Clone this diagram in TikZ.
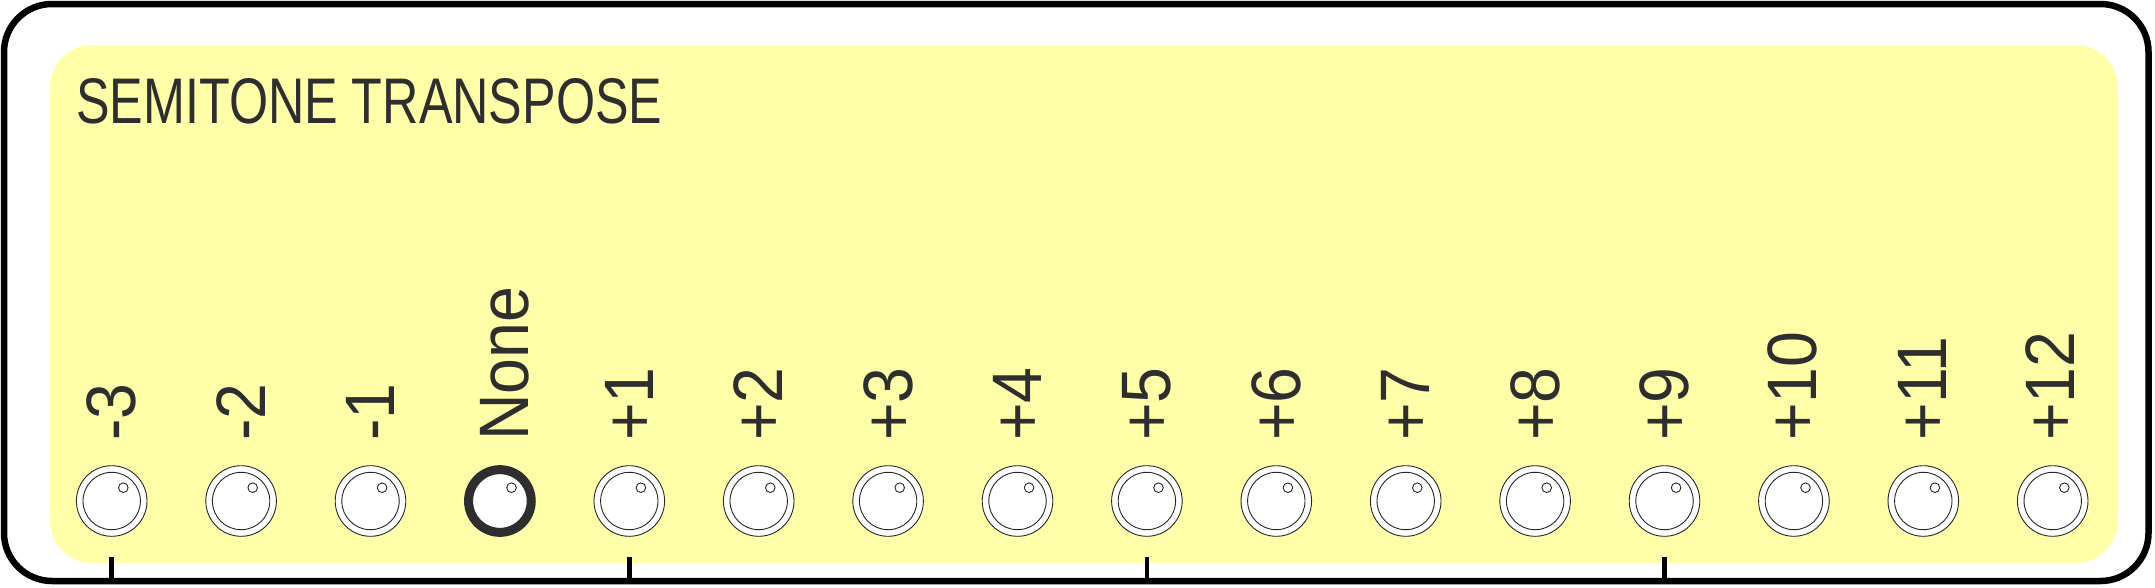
\documentclass[tikz,border=0pt]{standalone}
\usepackage{fontspec}
\setmainfont{Liberation Sans}
\newfontfamily\titlefont[FakeStretch=0.78]{Liberation Sans}
\newfontfamily\labelfont[FakeStretch=0.92]{Liberation Sans}
\usetikzlibrary{positioning}
\usetikzlibrary{calc}
\definecolor{panelyellow}{HTML}{FFFFAA}
\definecolor{inkgray}{HTML}{2E2E2E}

\begin{document}
\begin{tikzpicture}[x=1pt, y=-1pt,
        knob/.style={circle, draw=black!85, line width=0.9pt, fill=white,
            minimum size=70.6pt, inner sep=0pt,
            path picture={\draw[black!85, line width=0.9pt]
                (path picture bounding box.center) circle (28.7)
                ($(path picture bounding box.center)+(11.6,-13.3)$) circle (4.8);}},
        knobsel/.style={circle, draw=inkgray, line width=9pt, fill=white,
            minimum size=62.7pt, inner sep=0pt,
            path picture={\draw[black!85, line width=0.9pt]
                ($(path picture bounding box.center)+(11.6,-13.3)$) circle (4.8);}},
        lab/.style={rotate=90, anchor=base west, inner sep=0pt, text=inkgray,
            font=\labelfont\fontsize{70}{84}\selectfont},
        tick/.style={draw=black, line width=4.5pt}]
    \useasboundingbox (0,0) rectangle (2155,587);
    % case and panel
    \draw[line width=6.5pt, rounded corners=48pt] (4,4) rectangle (2148.5,581);
    \fill[panelyellow, rounded corners=42pt] (50,45) rectangle (2118,563);
    \node[anchor=base west, inner sep=0pt, text=inkgray,
        font=\titlefont\fontsize{64.5}{77}\selectfont] (title) at (76,123) {SEMITONE TRANSPOSE};
    % switch positions
    \foreach \lab/\dx/\kind [count=\i from 0] in {-3/24/knob, -2/24/knob, -1/24/knob,
            None/29/knobsel, +1/24/knob, +2/24/knob, +3/24/knob, +4/24/knob,
            +5/24/knob, +6/24/knob, +7/24/knob, +8/24/knob, +9/24/knob,
            +10/23/knob, +11/23/knob, +12/22/knob} {
        \node[\kind] (k\i) at ({111.7+129.4*\i},501) {};
        \node[lab] (t\i) at ($(k\i.center)+(\dx,-60)$) {\lab};
    }
    % ticks
    \coordinate (railtop) at (0,557);
    \coordinate (railbot) at (0,581);
    \foreach \i in {0,4,8,12}
        \draw[tick] (k\i.center |- railtop) -- (k\i.center |- railbot);
\end{tikzpicture}
\end{document}
